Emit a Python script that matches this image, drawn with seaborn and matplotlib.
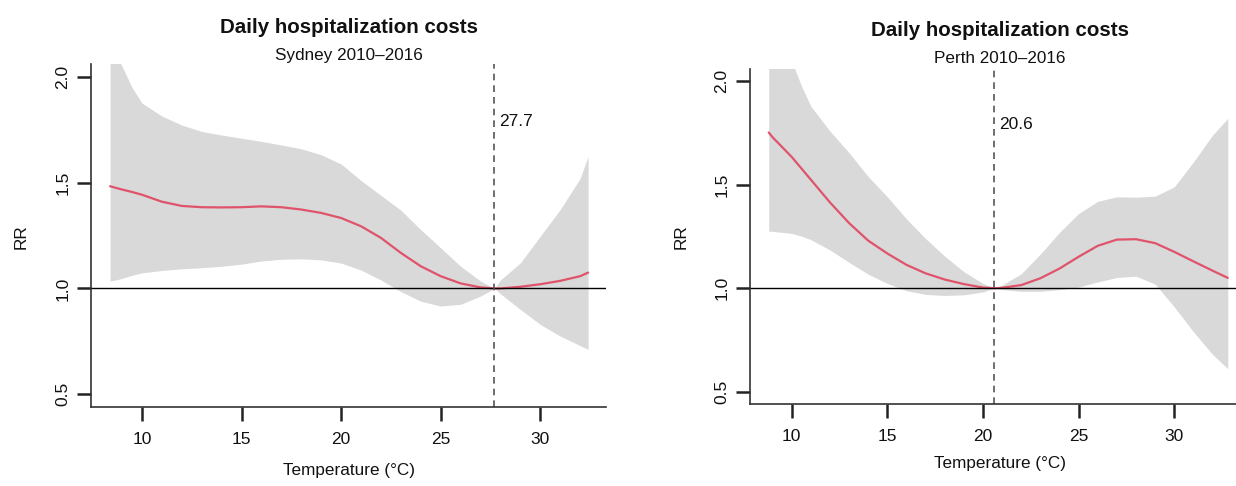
import matplotlib
matplotlib.use("Agg")
import matplotlib.pyplot as plt
import seaborn as sns
import pandas as pd

# values
syd_temp = [8.4, 8.9, 9.5, 10, 11, 12, 13, 14, 15, 16, 17, 18, 19, 20, 21, 22, 23, 24, 25, 26, 27, 27.7, 28, 29, 30, 31, 32, 32.4]
syd_rr = [1.483, 1.47, 1.456, 1.443, 1.41, 1.39, 1.384, 1.383, 1.384, 1.388, 1.384, 1.373, 1.357, 1.333, 1.294, 1.239,
          1.168, 1.105, 1.058, 1.024, 1.005, 1.0, 1.0, 1.008, 1.02, 1.036, 1.058, 1.075]
syd_hi = [2.25, 2.07, 1.95, 1.876, 1.815, 1.772, 1.742, 1.725, 1.71, 1.695, 1.678, 1.66, 1.632, 1.588, 1.51, 1.44,
          1.37, 1.278, 1.192, 1.105, 1.035, 1.0, 1.04, 1.121, 1.247, 1.373, 1.52, 1.624]
syd_lo = [1.035, 1.045, 1.062, 1.074, 1.085, 1.093, 1.098, 1.105, 1.115, 1.13, 1.138, 1.14, 1.135, 1.12, 1.087, 1.04,
          0.985, 0.94, 0.917, 0.925, 0.964, 1.0, 0.975, 0.901, 0.83, 0.775, 0.73, 0.712]
syd_mmt = 27.7

per_temp = [8.8, 9, 10, 10.5, 11, 12, 13, 14, 15, 16, 17, 18, 19, 20, 20.6, 21, 22, 23, 24, 25, 26, 27, 28, 29, 30,
            31, 32, 32.8]
per_rr = [1.753, 1.73, 1.635, 1.58, 1.525, 1.415, 1.315, 1.23, 1.168, 1.113, 1.072, 1.042, 1.02, 1.003, 1.0, 1.002,
          1.015, 1.048, 1.095, 1.152, 1.205, 1.235, 1.237, 1.218, 1.176, 1.13, 1.085, 1.05]
per_hi = [2.5, 2.4, 2.1, 1.98, 1.88, 1.76, 1.655, 1.54, 1.442, 1.335, 1.24, 1.155, 1.08, 1.023, 1.0, 1.015, 1.07,
          1.165, 1.27, 1.361, 1.42, 1.442, 1.44, 1.445, 1.49, 1.61, 1.74, 1.821]
per_lo = [1.276, 1.275, 1.265, 1.252, 1.235, 1.185, 1.125, 1.068, 1.023, 0.988, 0.97, 0.965, 0.968, 0.982, 1.0,
          0.993, 0.985, 0.985, 0.993, 1.006, 1.03, 1.052, 1.058, 1.02, 0.91, 0.79, 0.68, 0.611]
per_mmt = 20.6

y_ticks = [0.5, 1.0, 1.5, 2.0]
x_ticks = [10, 15, 20, 25, 30]

sns.set_style("ticks")
plt.rcParams["font.family"] = ["Liberation Sans", "DejaVu Sans"]

fig = plt.figure(figsize=(12.36, 4.86), dpi=100)

panels = [
    dict(city="Sydney 2010\u20132016", temp=syd_temp, rr=syd_rr, hi=syd_hi, lo=syd_lo, mmt=syd_mmt,
         pos=[0.0736, 0.1626, 0.4167, 0.7054], xlim=(7.44, 33.3), tx=0.282, ty=[0.944, 0.885], xl=0.017, yl_y=0.016),
    dict(city="Perth 2010\u20132016", temp=per_temp, rr=per_rr, hi=per_hi, lo=per_lo, mmt=per_mmt,
         pos=[0.6068, 0.1687, 0.4045, 0.6893], xlim=(7.82, 33.96), tx=0.809, ty=[0.938, 0.879], xl=0.551, yl_y=0.031),
]

for p in panels:
    ax = fig.add_axes(p["pos"])
    df = pd.DataFrame({"temp": p["temp"], "rr": p["rr"], "hi": p["hi"], "lo": p["lo"]})
    ax.fill_between(df["temp"], df["lo"], df["hi"], color="#d9d9d9", linewidth=0)
    sns.lineplot(data=df, x="temp", y="rr", color="#df536b", linewidth=1.6, ax=ax)
    ax.axhline(1.0, color="black", linewidth=1)
    ax.axvline(p["mmt"], color="#555555", linestyle=(0, (4, 3)), linewidth=1.2)
    ax.text(p["mmt"] + 0.25, 1.79, f"{p['mmt']:.1f}", fontsize=12.5, va="center", ha="left", color="#111111")

    ax.set_xlim(p["xlim"])
    ax.set_ylim(0.44, 2.06)
    ax.set_xticks(x_ticks)
    ax.set_yticks(y_ticks, [f"{v:.1f}" for v in y_ticks], rotation=90, va="center")
    ax.spines[["top", "right"]].set_visible(False)
    ax.spines[["left", "bottom"]].set_color("#333333")
    ax.spines[["left", "bottom"]].set_linewidth(1.2)
    ax.set_xlabel("")
    ax.set_ylabel("")
    ax.tick_params(axis="both", which="major", direction="out", length=10, width=1.8,
                   colors="#222222", labelsize=12.5, labelcolor="#111111")
    ax.tick_params(axis="x", pad=8)
    ax.tick_params(axis="y", pad=5)

    fig.text(p["tx"], p["ty"][0], "Daily hospitalization costs", ha="center", va="center",
             fontsize=14.8, fontweight="bold", color="#111111")
    fig.text(p["tx"], p["ty"][1], p["city"], ha="center", va="center", fontsize=12.3, color="#111111")
    fig.text(p["tx"], p["yl_y"], "Temperature (\u00b0C)", ha="center", va="bottom", fontsize=12.3, color="#111111")
    fig.text(p["xl"], 0.514, "RR", ha="center", va="center", rotation=90, fontsize=12.3, color="#111111")

fig.savefig("out.png", dpi=100)
